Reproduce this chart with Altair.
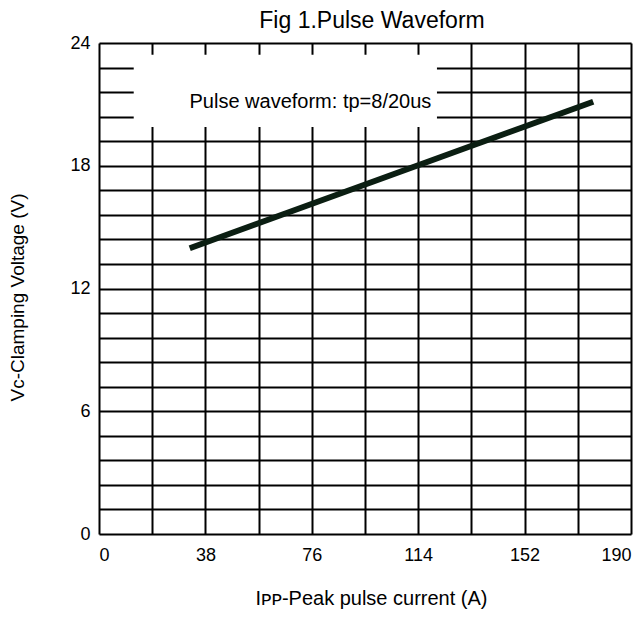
import altair as alt
import pandas as pd

# ---- data ----
ipp = [32.4, 176.5]          # I_PP (A)
vc = [13.97, 21.13]          # V_C (V)

x_ticks = [0, 38, 76, 114, 152, 190]
y_ticks = [0, 6, 12, 18, 24]

x_grid = [19 * i for i in range(11)]
y_grid = [round(1.2 * i, 1) for i in range(21)]

note_text = ["Pulse waveform: tp=8/20us"]
note_x = [75.5]
note_y = [21.1]
box_x = [12.4]
box_x2 = [120.7]
box_y = [19.9]
box_y2 = [23.43]

line_df = pd.DataFrame({"ipp": ipp, "vc": vc})
note_df = pd.DataFrame({"t": note_text, "ipp": note_x, "vc": note_y})
box_df = pd.DataFrame({"ipp": box_x, "ipp2": box_x2, "vc": box_y, "vc2": box_y2})

FONT = "Liberation Sans"

xscale = alt.Scale(domain=[0, 190], nice=False, zero=False)
yscale = alt.Scale(domain=[0, 24], nice=False, zero=False)

xaxis = alt.Axis(
    values=x_grid,
    labelExpr="datum.value % 38 == 0 ? format(datum.value, 'd') : ''",
    grid=True, gridColor="black", gridWidth=2, gridOpacity=1,
    ticks=False, domain=False,
    labelFont=FONT, labelFontSize=18, labelColor="black", labelPadding=12,
    title="Iᴘᴘ-Peak pulse current (A)",
    titleFont=FONT, titleFontSize=20, titleFontWeight="normal", titleColor="black",
    titleX=272, titleY=64, titleAlign="center", titleBaseline="middle",
)
yaxis = alt.Axis(
    values=y_grid,
    labelExpr="abs(datum.value/6 - round(datum.value/6)) < 0.001 ? format(datum.value, 'd') : ''",
    grid=True, gridColor="black", gridWidth=2, gridOpacity=1,
    ticks=False, domain=False,
    labelFont=FONT, labelFontSize=18, labelColor="black", labelPadding=9,
    labelBaseline="middle",
    title="Vᴄ-Clamping Voltage (V)",
    titleFont=FONT, titleFontSize=19, titleFontWeight="normal", titleColor="black",
    titleX=-82, titleY=254, titleAlign="center", titleBaseline="middle", titleAngle=270,
)

line = alt.Chart(line_df).mark_line(
    color="#0b1e12", strokeWidth=6, strokeCap="butt"
).encode(
    x=alt.X("ipp:Q", scale=xscale, axis=xaxis),
    y=alt.Y("vc:Q", scale=yscale, axis=yaxis),
)

box = alt.Chart(box_df).mark_rect(color="white", opacity=1).encode(
    x=alt.X("ipp:Q", scale=xscale, axis=xaxis),
    x2="ipp2:Q",
    y=alt.Y("vc:Q", scale=yscale, axis=yaxis),
    y2="vc2:Q",
)

note = alt.Chart(note_df).mark_text(
    font=FONT, fontSize=20, color="black", align="center", baseline="middle"
).encode(
    x=alt.X("ipp:Q", scale=xscale, axis=xaxis),
    y=alt.Y("vc:Q", scale=yscale, axis=yaxis),
    text="t:N",
)

chart = alt.layer(box, line, note).properties(
    width=532,
    height=491,
    padding={"left": 99, "top": 43, "right": 9, "bottom": 93},
    autosize=alt.AutoSizeParams(type="none"),
    title=alt.TitleParams(
        "Fig 1.Pulse Waveform", font=FONT, fontSize=23, fontWeight="normal",
        color="black", anchor="middle", baseline="bottom", offset=12, dx=7,
        dy=34, frame="group",
    ),
).configure_view(stroke="black", strokeWidth=3).configure(background="white")

chart.save("out.html", embed_options={"renderer": "svg", "actions": False})
